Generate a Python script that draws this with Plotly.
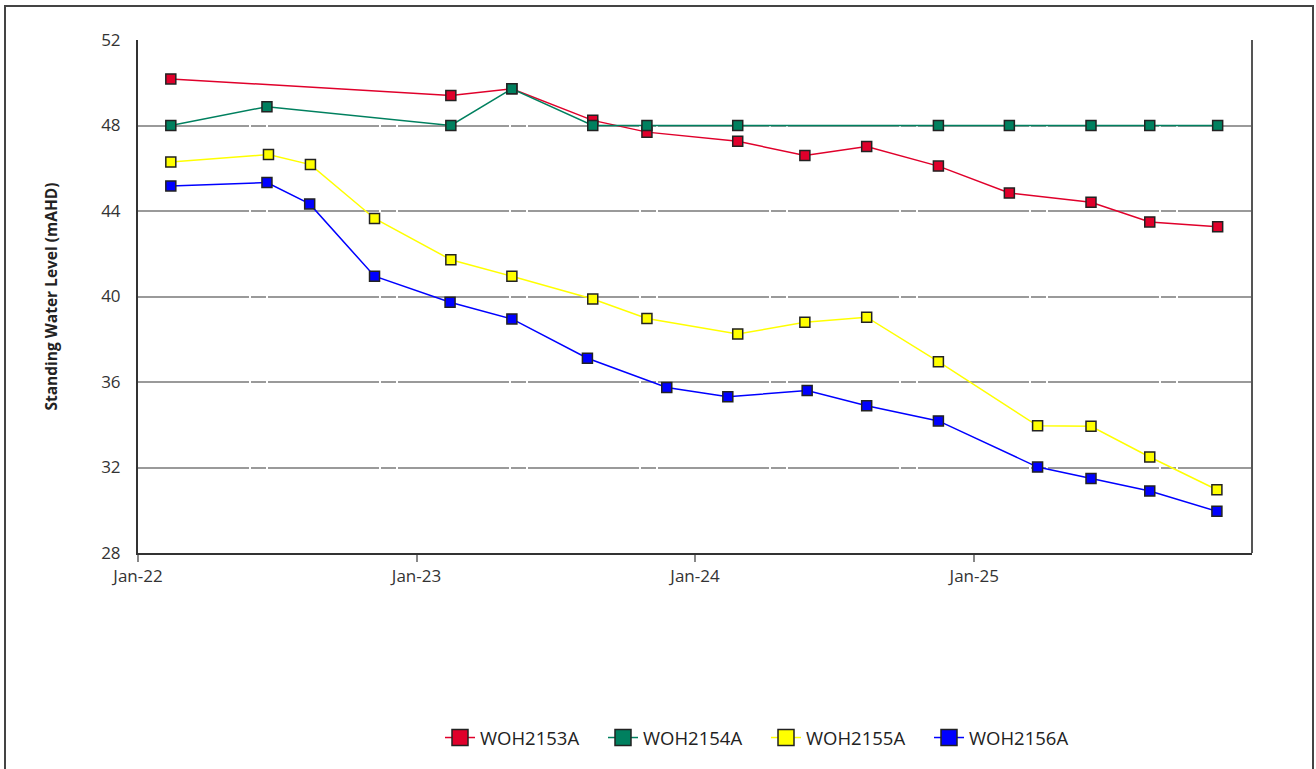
import plotly.graph_objects as go

# ---- data ----
series_names = ["WOH2153A", "WOH2154A", "WOH2155A", "WOH2156A"]
series_colors = ["#E0002B", "#00805F", "#FFFF00", "#0000FF"]

dates_2153 = ["2022-02-13", "2023-02-15", "2023-05-06", "2023-08-20", "2023-10-30",
              "2024-02-26", "2024-05-24", "2024-08-13", "2024-11-15", "2025-02-16",
              "2025-06-03", "2025-08-19", "2025-11-16"]
level_2153 = [50.18, 49.40, 49.72, 48.24, 47.69, 47.26, 46.60, 47.02, 46.10, 44.84,
              44.41, 43.49, 43.26]

dates_2154 = ["2022-02-13", "2022-06-19", "2023-02-15", "2023-05-06", "2023-08-20",
              "2023-10-30", "2024-02-26", "2024-11-15", "2025-02-16", "2025-06-03",
              "2025-08-19", "2025-11-16"]
level_2154 = [48.0, 48.88, 48.0, 49.72, 48.0, 48.0, 48.0, 48.0, 48.0, 48.0, 48.0, 48.0]

dates_2155 = ["2022-02-13", "2022-06-21", "2022-08-15", "2022-11-07", "2023-02-15",
              "2023-05-06", "2023-08-20", "2023-10-30", "2024-02-26", "2024-05-24",
              "2024-08-13", "2024-11-15", "2025-03-25", "2025-06-03", "2025-08-19",
              "2025-11-15"]
level_2155 = [46.29, 46.64, 46.17, 43.65, 41.72, 40.95, 39.88, 38.97, 38.25, 38.79,
              39.03, 36.95, 33.95, 33.93, 32.49, 30.96]

dates_2156 = ["2022-02-13", "2022-06-19", "2022-08-14", "2022-11-07", "2023-02-14",
              "2023-05-06", "2023-08-13", "2023-11-25", "2024-02-13", "2024-05-27",
              "2024-08-13", "2024-11-15", "2025-03-25", "2025-06-03", "2025-08-19",
              "2025-11-15"]
level_2156 = [45.17, 45.33, 44.33, 40.95, 39.73, 38.95, 37.11, 35.74, 35.31, 35.60,
              34.89, 34.18, 32.02, 31.48, 30.90, 29.95]

x_range = ["2022-01-01", "2025-12-31"]
x_tickvals = ["2022-01-01", "2023-01-01", "2024-01-01", "2025-01-01"]
x_ticktext = ["Jan-22", "Jan-23", "Jan-24", "Jan-25"]
y_range = [28, 52]
y_title = "Standing Water Level (mAHD)"

all_dates = [dates_2153, dates_2154, dates_2155, dates_2156]
all_levels = [level_2153, level_2154, level_2155, level_2156]

FONT = "Open Sans"

fig = go.Figure()
for name, color, xs, ys in zip(series_names, series_colors, all_dates, all_levels):
    fig.add_trace(go.Scatter(
        x=xs, y=ys, name=name, mode="lines+markers", showlegend=False,
        line=dict(color=color, width=1.5),
        marker=dict(symbol="square", size=10, color=color,
                    line=dict(color="#222222", width=1.5)),
    ))
# legend entries (bigger legend symbols, as in the reference)
for name, color in zip(series_names, series_colors):
    fig.add_trace(go.Scatter(
        x=[None], y=[None], name=name, mode="lines+markers", showlegend=True,
        line=dict(color=color, width=1.5),
        marker=dict(symbol="square", size=16, color=color,
                    line=dict(color="#222222", width=1.5)),
    ))

W, H = 1316, 769
L, R, T, B = 138, W - 1252, 40, H - 553
pw, ph = W - L - R, H - T - B

def px_x(p):
    return (p - L) / pw

def px_y(p):
    return (H - B - p) / ph

fig.update_layout(
    width=W, height=H,
    margin=dict(l=L, r=R, t=T, b=B),
    paper_bgcolor="white", plot_bgcolor="white",
    font=dict(family=FONT, color="#222222"),
    showlegend=True,
    legend=dict(orientation="h", x=px_x(766), xanchor="center",
                y=px_y(738), yanchor="middle",
                font=dict(family=FONT, size=18.5, color="#222222"),
                itemwidth=30, entrywidth=118, entrywidthmode="pixels",
                tracegroupgap=0),
    xaxis=dict(
        type="date", range=x_range, tickvals=x_tickvals, ticktext=x_ticktext,
        showgrid=False,
        ticks="outside", ticklen=7, tickcolor="#888888", tickwidth=1.5,
        tickfont=dict(family=FONT, size=17, color="#333333"),
        showline=True, linecolor="#333333", linewidth=2, mirror=False,
        zeroline=False,
    ),
    yaxis=dict(
        range=y_range, dtick=4, tick0=28,
        showgrid=True, gridcolor="#9a9a9a", gridwidth=1.5,
        griddash="111px,2px,15px,2px",
        ticks="", ticklabelstandoff=12,
        tickfont=dict(family=FONT, size=17, color="#333333"),
        showline=True, linecolor="#333333", linewidth=2,
        zeroline=False,
        title=dict(text=y_title, font=dict(family=FONT, size=15.5, color="#222222",
                                          weight="bold"),
                   standoff=40),
    ),
    shapes=[
        dict(type="line", xref="paper", yref="paper", x0=1, x1=1, y0=0, y1=1,
             line=dict(color="#555555", width=2)),
        dict(type="rect", xref="paper", yref="paper",
             x0=px_x(5), x1=px_x(1313), y0=px_y(800), y1=px_y(6),
             line=dict(color="#444444", width=2), layer="below"),
    ],
)

fig.write_html("out.html",
               config={"displayModeBar": False},
               post_script="document.body.style.margin='0px';"
                           "document.body.style.overflow='hidden';")
